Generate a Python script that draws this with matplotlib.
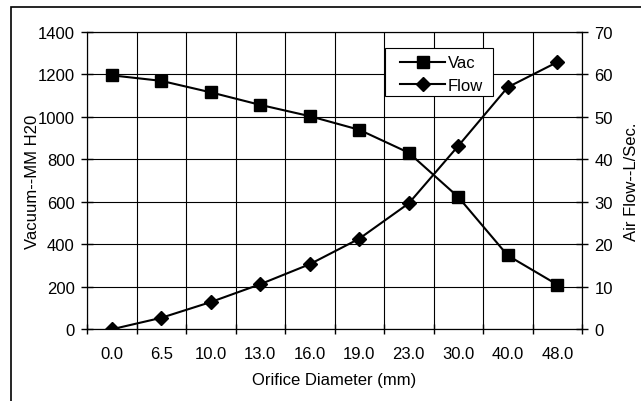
import matplotlib
matplotlib.use("Agg")
import matplotlib.pyplot as plt
from matplotlib.patches import Rectangle
import numpy as np

diameters = ["0.0", "6.5", "10.0", "13.0", "16.0", "19.0", "23.0", "30.0", "40.0", "48.0"]
vac = [1194, 1168, 1114, 1055, 1002, 938, 830, 622, 347, 210]
flow = [0.0, 2.7, 6.4, 10.6, 15.3, 21.3, 29.6, 43.1, 56.9, 62.8]

plt.rcParams['font.family'] = ['Liberation Sans', 'DejaVu Sans']
FS = 12

W, H = 641, 402
fig = plt.figure(figsize=(W / 100, H / 100), dpi=100)
fig.patch.set_facecolor('white')

# outer chart border
fig.patches.append(Rectangle((11 / W, -0.1), 1.2, 1 - 8 / H + 0.1, transform=fig.transFigure,
                             fill=False, edgecolor='black', linewidth=1.2, clip_on=False))

AX_L, AX_R, AX_T, AX_B = 87, 582, 32.5, 330.3
ax = fig.add_axes([AX_L / W, 1 - AX_B / H, (AX_R - AX_L) / W, (AX_B - AX_T) / H])
x = np.arange(len(diameters))

ax.set_xlim(-0.5, len(diameters) - 0.5)
ax.set_ylim(0, 1400)
ax.set_yticks(np.arange(0, 1401, 200))
ax.set_xticks(x)
ax.set_xticklabels(diameters, fontsize=FS)
ax.set_xticks(np.arange(-0.5, len(diameters)), minor=True)
ax.tick_params(axis='x', which='major', length=0, pad=12)
ax.tick_params(axis='x', which='minor', direction='inout', length=7, width=1)
ax.tick_params(axis='y', direction='inout', length=8, width=1, labelsize=FS, pad=5)
ax.grid(True, which='minor', axis='x', color='black', linewidth=0.8)
ax.grid(True, which='major', axis='y', color='black', linewidth=0.8)
ax.set_axisbelow(True)
for s in ax.spines.values():
    s.set_color('black')
    s.set_linewidth(0.8)

l1, = ax.plot(x, vac, color='black', linewidth=1.5, marker='s', markersize=9,
              markerfacecolor='black', label='Vac', zorder=5)

ax2 = ax.twinx()
ax2.set_ylim(0, 70)
ax2.set_yticks(np.arange(0, 71, 10))
ax2.tick_params(axis='y', direction='inout', length=8, width=1, labelsize=FS, pad=5)
l2, = ax2.plot(x, flow, color='black', linewidth=1.5, marker='D', markersize=7,
               markerfacecolor='black', label='Flow', zorder=5)
for s in ax2.spines.values():
    s.set_color('black')
    s.set_linewidth(0.8)

ax.set_xlabel('Orifice Diameter (mm)', fontsize=FS, labelpad=8)
ax.set_ylabel('Vacuum--MM H20', fontsize=FS)
ax.yaxis.set_label_coords((40 - AX_L) / (AX_R - AX_L), 0.5)
ax2.set_ylabel('Air Flow--L/Sec.', fontsize=FS, labelpad=8)

# legend box (Excel style, wide padding)
LB_L, LB_R, LB_T, LB_B = 385, 493, 49, 97
box = Rectangle((LB_L / W, 1 - LB_B / H), (LB_R - LB_L) / W, (LB_B - LB_T) / H,
                transform=fig.transFigure, facecolor='white', edgecolor='black',
                linewidth=0.8, zorder=6, clip_on=False)
ax2.add_patch(box)

leg = ax2.legend([l1, l2], ['Vac', 'Flow'], loc='upper left',
                 bbox_to_anchor=(400 / W, 1 - 56.5 / H), bbox_transform=fig.transFigure,
                 fontsize=FS, frameon=False, handlelength=2.7, borderaxespad=0,
                 handletextpad=0.15, labelspacing=0.45, borderpad=0)
leg.set_zorder(7)

fig.savefig('out.png', dpi=100)
